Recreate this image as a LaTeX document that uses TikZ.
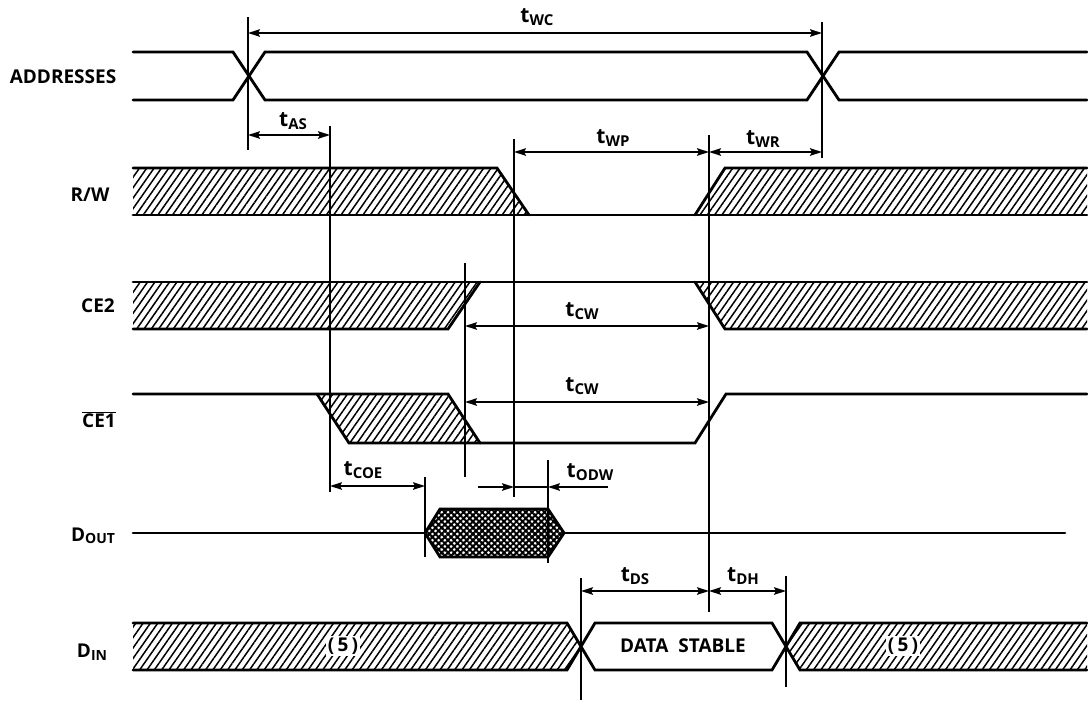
\documentclass[tikz,border=0pt]{standalone}
\usepackage{fontspec}
\setmainfont{Open Sans}
\usetikzlibrary{arrows.meta,patterns.meta}
\newcommand{\tsub}[1]{t\raisebox{-2.5pt}{\fontsize{15}{15}\selectfont #1}}
\begin{document}
\begin{tikzpicture}[x=1pt,y=-1pt,
  sig/.style={line width=2.8pt, line join=miter, line cap=round},
  guide/.style={line width=1.7pt},
  dim/.style={line width=1.7pt, {Stealth[length=12pt,width=7.5pt,inset=2pt]}-{Stealth[length=12pt,width=7.5pt,inset=2pt]}},
  half/.style={line width=1.7pt, -{Stealth[length=12pt,width=7.5pt,inset=2pt]}},
  hatch/.style={pattern={Lines[angle=55,distance=6pt,line width=1.5pt]}},
  xhatch/.style={pattern={Hatch[angle=45,distance=4.4pt,line width=2pt]}},
  lbl/.style={font=\fontsize{19}{19}\selectfont\bfseries, inner sep=0pt},
  tlbl/.style={font=\fontsize{21}{21}\selectfont\bfseries, inner sep=0pt},
  txt/.style={font=\fontsize{19}{19}\selectfont\bfseries, inner sep=1.5pt}
]
\useasboundingbox (0,0) rectangle (1088,702);
\fill[white] (0,0) rectangle (1088,702);

% ---- signal names
\node[lbl] (nAddr) at (63,77) {ADDRESSES};
\node[lbl] (nRW) at (90,195) {R/W};
\node[lbl] (nCE2) at (98,306) {CE2};
\node[lbl] (nCE1) at (99,420) {$\overline{\mbox{CE1}}$};
\node[lbl] (nDout) at (93,536) {D\raisebox{-2.5pt}{\fontsize{14}{14}\selectfont OUT}};
\node[lbl] (nDin) at (92,652) {D\raisebox{-2.5pt}{\fontsize{14}{14}\selectfont IN}};

% ---- ADDRESSES
\draw[sig] (133,52) -- (233,52) -- (265,100) -- (807,100) -- (839,52) -- (1087,52);
\draw[sig] (133,100) -- (233,100) -- (265,52) -- (807,52) -- (839,100) -- (1087,100);

% ---- R/W
\fill[hatch] (133,168) -- (497,168) -- (529,215) -- (133,215) -- cycle;
\fill[hatch] (725,168) -- (1087,168) -- (1087,215) -- (695,215) -- cycle;
\draw[sig] (133,168) -- (497,168) -- (529,215);
\draw[sig] (695,215) -- (725,168) -- (1087,168);
\draw[sig] (133,215) -- (1087,215);

% ---- CE2
\fill[hatch] (133,282) -- (480,282) -- (448,329) -- (133,329) -- cycle;
\fill[hatch] (695,282) -- (1087,282) -- (1087,329) -- (725,329) -- cycle;
\draw[sig] (133,282) -- (1087,282);
\draw[sig] (133,329) -- (448,329) -- (480,282);
\draw[sig] (695,282) -- (725,329) -- (1087,329);

% ---- CE1
\fill[hatch] (317,394) -- (448,394) -- (480,443) -- (349,443) -- cycle;
\draw[sig] (133,394) -- (448,394) -- (480,443);
\draw[sig] (317,394) -- (349,443) -- (695,443) -- (726,394) -- (1087,394);

% ---- DOUT
\fill[xhatch] (425,533) -- (440,509) -- (548,509) -- (564,533) -- (548,557) -- (440,557) -- cycle;
\draw[sig] (425,533) -- (440,509) -- (548,509) -- (564,533) -- (548,557) -- (440,557) -- cycle;
\draw[sig] (133,533) -- (425,533);
\draw[sig] (564,533) -- (1065,533);

% ---- DIN
\fill[hatch] (133,623) -- (567,623) -- (581,646) -- (567,670) -- (133,670) -- cycle;
\fill[hatch] (1087,623) -- (800,623) -- (786,646) -- (800,670) -- (1087,670) -- cycle;
\draw[sig] (133,623) -- (567,623) -- (595,670) -- (772,670) -- (800,623) -- (1087,623);
\draw[sig] (133,670) -- (567,670) -- (595,623) -- (772,623) -- (800,670) -- (1087,670);
\node[txt, fill=white] (five1) at (343,646) {(\,5\,)};
\node[txt, fill=white] (five2) at (903,646) {(\,5\,)};
\node[txt] (stable) at (683,646) {DATA\ \ STABLE};

% ---- guide lines
\coordinate (a1) at (248,17);  \coordinate (a2) at (248,150);
\coordinate (b1) at (822,22);  \coordinate (b2) at (822,158);
\coordinate (c1) at (330,126); \coordinate (c2) at (330,492);
\coordinate (d1) at (514,139); \coordinate (d2) at (514,497);
\coordinate (e1) at (709,135); \coordinate (e2) at (709,612);
\coordinate (f1) at (465,263); \coordinate (f2) at (465,477);
\coordinate (g1) at (425,477); \coordinate (g2) at (425,557);
\coordinate (h1) at (548,460); \coordinate (h2) at (548,563);
\coordinate (i1) at (581,578); \coordinate (i2) at (581,700);
\coordinate (j1) at (786,576); \coordinate (j2) at (786,687);
\foreach \p in {a,b,c,d,e,f,g,h,i,j} \draw[guide] (\p1) -- (\p2);

% ---- dimension arrows
\coordinate (wcL) at (248,33);  \coordinate (wcR) at (822,33);
\coordinate (asL) at (248,135); \coordinate (asR) at (330,135);
\coordinate (wpL) at (514,152); \coordinate (wpR) at (709,152);
\coordinate (wrR) at (822,152);
\coordinate (cwaL) at (465,326); \coordinate (cwaR) at (709,326);
\coordinate (cwbL) at (465,402); \coordinate (cwbR) at (709,402);
\coordinate (coL) at (330,486); \coordinate (coR) at (425,486);
\coordinate (odA) at (478,487); \coordinate (odB) at (514,487);
\coordinate (odC) at (548,487); \coordinate (odD) at (608,487);
\coordinate (dsL) at (581,591); \coordinate (dsR) at (709,591);
\coordinate (dhR) at (786,591);
\draw[dim] (wcL) -- (wcR);
\draw[dim] (asL) -- (asR);
\draw[dim] (wpL) -- (wpR);
\draw[dim] (wpR) -- (wrR);
\draw[dim] (cwaL) -- (cwaR);
\draw[dim] (cwbL) -- (cwbR);
\draw[dim] (coL) -- (coR);
\draw[half] (odA) -- (odB);
\draw[guide] (odB) -- (odC);
\draw[half] (odD) -- (odC);
\draw[dim] (dsL) -- (dsR);
\draw[dim] (dsR) -- (dhR);

% ---- timing labels
\node[tlbl] (lWC) at (537,17) {\tsub{WC}};
\node[tlbl] (lAS) at (293,121) {\tsub{AS}};
\node[tlbl] (lWP) at (613,138) {\tsub{WP}};
\node[tlbl] (lWR) at (763,139) {\tsub{WR}};
\node[tlbl] (lCW1) at (582,311) {\tsub{CW}};
\node[tlbl] (lCW2) at (582,386) {\tsub{CW}};
\node[tlbl] (lCOE) at (363,470) {\tsub{COE}};
\node[tlbl] (lODW) at (590,472) {\tsub{ODW}};
\node[tlbl] (lDS) at (635,576) {\tsub{DS}};
\node[tlbl] (lDH) at (743,576) {\tsub{DH}};
\end{tikzpicture}
\end{document}
